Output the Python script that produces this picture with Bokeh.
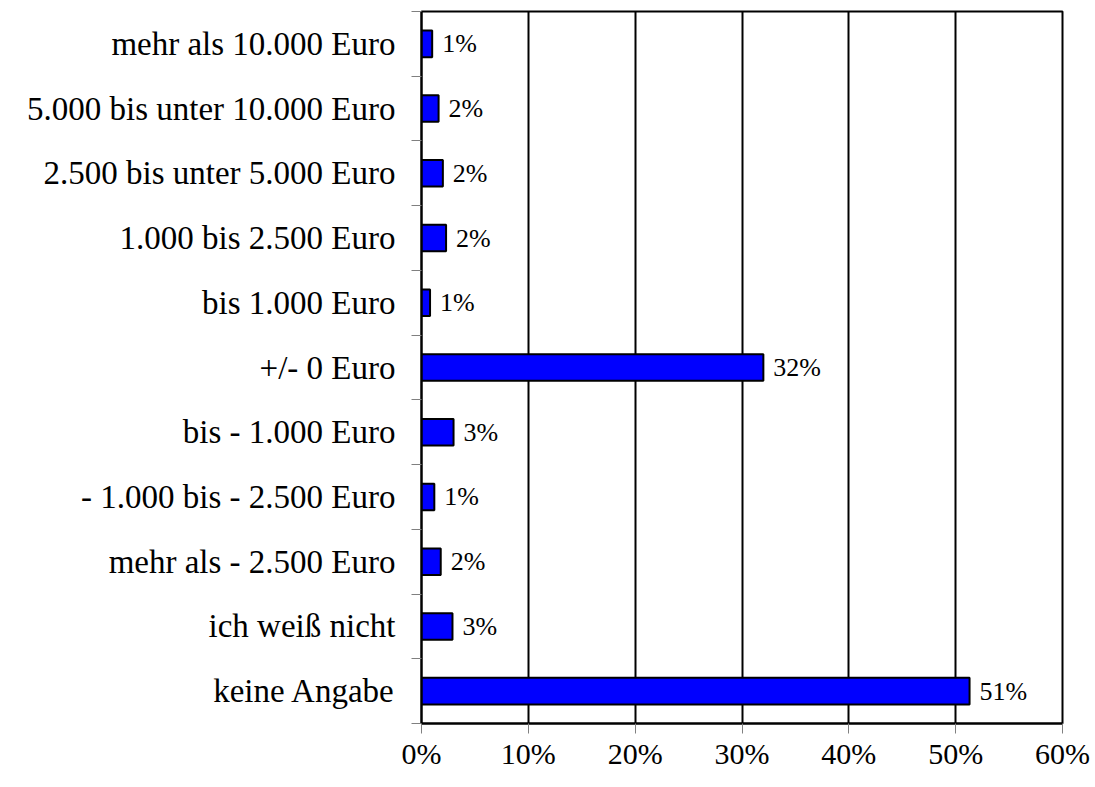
from bokeh.plotting import figure
from bokeh.models import (Range1d, LinearAxis, FixedTicker, ColumnDataSource,
                          CustomJSTickFormatter, LabelSet, Grid)
from bokeh.core.properties import value
from bokeh.embed import file_html
from bokeh.resources import INLINE

categories = ["mehr als 10.000 Euro", "5.000 bis unter 10.000 Euro", "2.500 bis unter 5.000 Euro",
              "1.000 bis 2.500 Euro", "bis 1.000 Euro", "+/- 0 Euro", "bis - 1.000 Euro",
              "- 1.000 bis - 2.500 Euro", "mehr als - 2.500 Euro", "ich weiß nicht", "keine Angabe"]
values = [1.0, 1.6, 2.0, 2.3, 0.8, 32.0, 3.0, 1.2, 1.8, 2.9, 51.3]
bar_labels = ["1%", "2%", "2%", "2%", "1%", "32%", "3%", "1%", "2%", "3%", "51%"]
x_ticks = [0, 10, 20, 30, 40, 50, 60]
x_tick_labels = ["0%", "10%", "20%", "30%", "40%", "50%", "60%"]

FONT = "Liberation Serif"
n = len(categories)
ypos = [n - 0.5 - i for i in range(n)]

src = ColumnDataSource(dict(y=ypos, val=values, lab=bar_labels))

p = figure(width=1095, height=787, y_range=Range1d(0, n),
           x_range=Range1d(0, 60), output_backend="svg", toolbar_location=None,
           x_axis_location=None, y_axis_location=None,
           min_border_left=421, min_border_right=33, min_border_top=11, min_border_bottom=64)
p.outline_line_color = "black"
p.outline_line_width = 2
p.background_fill_color = "white"
p.border_fill_color = "white"
for g in p.xgrid + p.ygrid:
    g.grid_line_color = None

p.add_layout(Grid(dimension=0, ticker=FixedTicker(ticks=x_ticks),
                  grid_line_color="black", grid_line_width=2))

p.hbar(y="y", right="val", left=0, height=0.41, source=src,
       fill_color="#0000FF", line_color="black", line_width=2)

p.add_layout(LabelSet(x="val", y="y", text="lab", source=src, x_offset=10,
                      text_baseline="middle", text_font=value(FONT), text_font_size=value("26px"),
                      text_color="black"))

# boundary ticks on the left
tick_ax = LinearAxis(ticker=FixedTicker(ticks=list(range(n + 1))),
                     formatter=CustomJSTickFormatter(code="return ''"),
                     major_tick_out=10, major_tick_in=0, major_tick_line_color="#808080",
                     major_tick_line_width=1, minor_tick_line_color=None,
                     axis_line_color="black", axis_line_width=2,
                     major_label_standoff=0, major_label_text_font_size="1px")
p.add_layout(tick_ax, "left")

cat_ax = LinearAxis(ticker=FixedTicker(ticks=ypos),
                    major_label_overrides={y: c for y, c in zip(ypos, categories)},
                    major_tick_line_color=None, minor_tick_line_color=None,
                    axis_line_color=None, major_label_standoff=10,
                    major_label_text_font=FONT, major_label_text_font_size="33px",
                    major_label_text_color="black")
p.add_layout(cat_ax, "left")

x_ax = LinearAxis(ticker=FixedTicker(ticks=x_ticks),
                  major_label_overrides={t: l for t, l in zip(x_ticks, x_tick_labels)},
                  major_tick_out=10, major_tick_in=0, major_tick_line_color="#808080",
                  minor_tick_line_color=None, axis_line_color="black", axis_line_width=2,
                  major_label_standoff=3, major_label_text_font=FONT,
                  major_label_text_font_size="30px", major_label_text_color="black")
p.add_layout(x_ax, "below")

open("out.html", "w").write(file_html(p, INLINE))
